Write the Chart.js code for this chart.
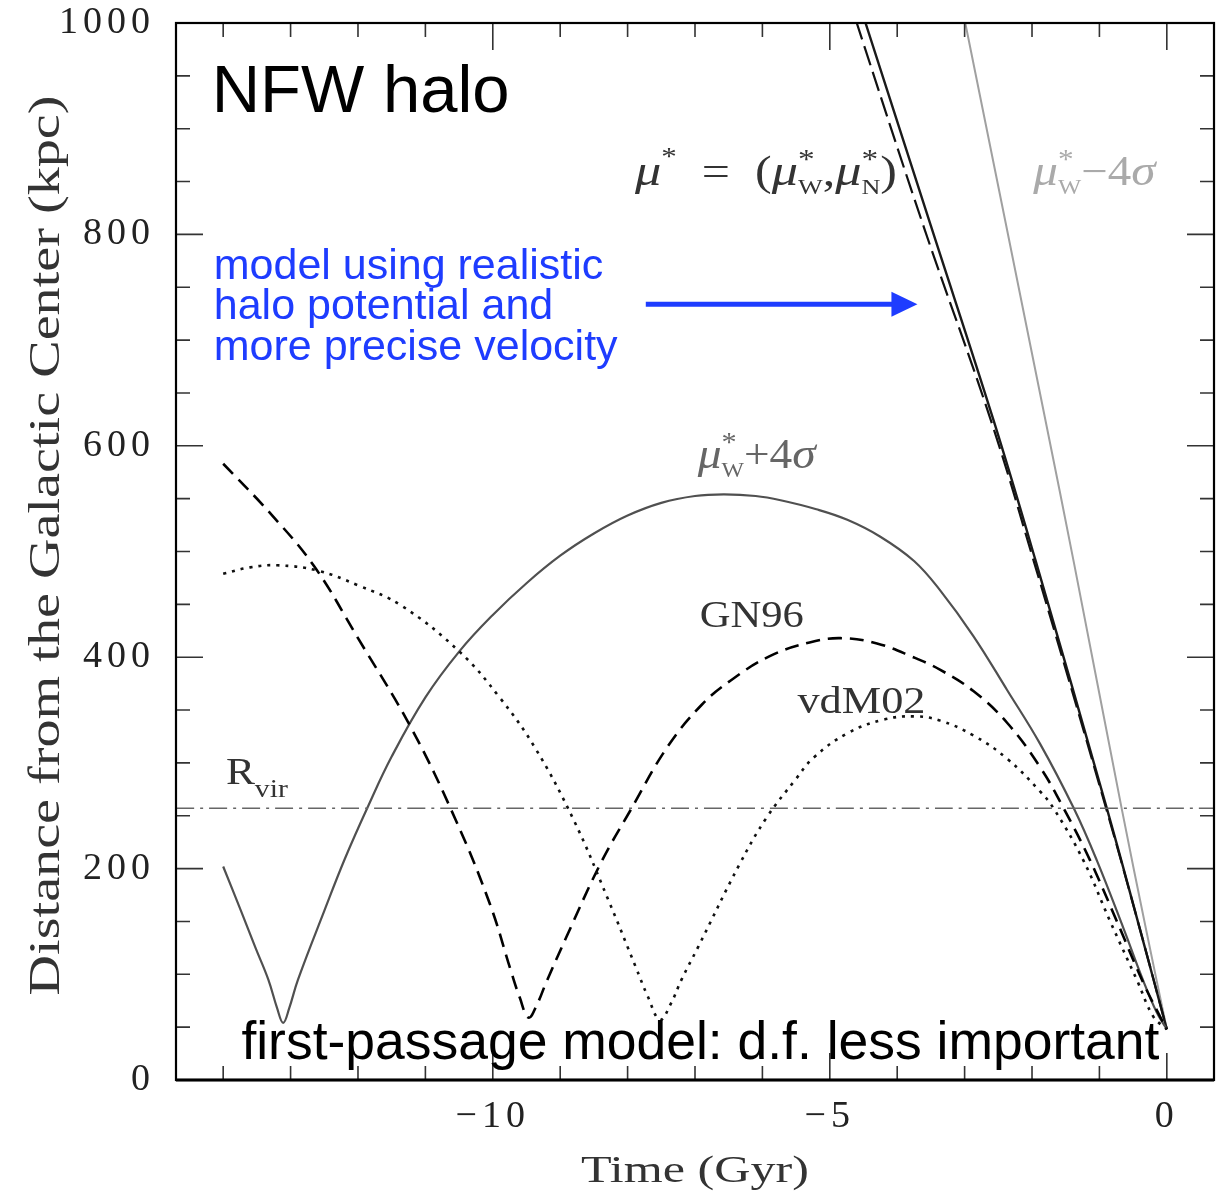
<!DOCTYPE html>
<html>
<head>
<meta charset="utf-8">
<script src="https://cdn.jsdelivr.net/npm/chart.js@4.4.1/dist/chart.umd.min.js"></script>
<style>
  html, body { margin: 0; padding: 0; background: #fff; }
</style>
</head>
<body>
<canvas id="chart" width="1231" height="1195"></canvas>
<script>
// 축 범위
const xMin = -14.7, xMax = 0.7;
const yMin = 0, yMax = 1000;
const xLabelValues = [-10, -5, 0];
const yLabelStep = 200;

// mu* + 4 sigma (진한 회색 실선)
const plusT = [-14.0, -13.73, -13.52, -13.33, -13.2, -13.11, -13.02, -12.89, -12.5, -12.19, -11.85, -11.5, -11.0, -10.49, -10.0, -9.5, -9.0, -8.5, -8.0, -7.5, -7.0, -6.57, -6.1, -5.73, -5.2, -4.74, -4.25, -3.75, -3.36, -2.87, -2.37, -1.88, -1.38, -1.04, -0.64, -0.35, -0.15, 0];
const plusR = [202, 159, 125, 95, 68, 54, 68, 95, 160, 210, 259, 306, 362, 406, 440, 470, 496, 517, 534, 546, 552.5, 554, 552.5, 548.5, 540, 530, 514, 491, 463, 420, 369, 318, 257, 208, 143, 94, 64, 48];

// GN96 (검은 점선)
const gnT = [-14.0, -13.3, -12.65, -12.0, -11.21, -10.55, -10.04, -9.73, -9.6, -9.47, -9.34, -9.21, -8.91, -8.4, -7.95, -7.41, -6.9, -6.47, -5.89, -5.3, -4.84, -4.3, -3.76, -3.36, -2.87, -2.37, -1.88, -1.53, -1.14, -0.74, -0.35, -0.1, 0];
const gnR = [583, 536, 486, 418, 333, 246, 166, 103, 78, 59, 72, 92, 135, 205, 256, 315, 355, 378, 401, 414, 418, 413, 400, 388, 368, 338, 296, 257, 208, 150, 92, 60, 48];

// vdM02 (점)
const vdmT = [-14.0, -13.6, -13.2, -12.6, -12.0, -11.36, -10.49, -9.9, -9.38, -8.8, -8.29, -7.88, -7.7, -7.52, -7.36, -7.2, -6.96, -6.34, -5.94, -5.5, -5.24, -4.74, -4.2, -3.73, -3.36, -2.87, -2.37, -1.88, -1.68, -1.24, -0.84, -0.44, -0.2, 0];
const vdmR = [479, 485, 487, 482, 468, 449, 405, 362, 315, 246, 171, 107, 79, 57, 72, 95, 125, 204, 248, 285, 305, 328, 341, 344, 340, 326, 304, 273, 257, 208, 150, 94, 60, 48];

// mu* = (muW, muN) 실선 과 긴 점선
const coreT = [-4.6, -4.47, -3.5, -2.57, -1.95, -0.89, -0.4, 0];
const coreR = [1027, 1000, 808, 624, 492, 257, 143, 48];
const coreDashT = [-4.73, -4.6, -3.6, -2.61, -1.97, -0.9, -0.4, 0];
const coreDashR = [1027, 1000, 806, 624, 490, 257, 143, 48];

// mu* - 4 sigma (연한 회색)
const minusT = [-3.08, -2.99, -1.80, -1.38, -0.67, -0.3, 0];
const minusR = [1028, 1000, 624, 490, 257, 140, 48];

// 비리얼 반경
const rVir = 257;

const serif = '"Liberation Serif", "Times New Roman", serif';
const sans = '"Liberation Sans", Arial, Helvetica, sans-serif';

function toPoints(ts, rs) {
    return ts.map((t, i) => ({ x: t, y: rs[i] }));
}

function curve(data, color, width, dash) {
    return {
        data: data,
        showLine: true,
        borderColor: color,
        borderWidth: width,
        borderDash: dash || [],
        borderCapStyle: 'butt',
        pointRadius: 0,
        tension: 0.4,
        fill: false
    };
}

// 첨자가 섞인 텍스트 그리기
function drawRuns(ctx, opt) {
    const runs = opt.runs;
    ctx.save();
    // 자연 폭 측정
    let natural = 0, hold = 0;
    runs.forEach(r => {
        ctx.font = r.font;
        const w = ctx.measureText(r.s).width;
        if (r.stack) { hold = Math.max(hold, w); }
        else { natural += Math.max(hold, w); hold = 0; }
    });
    const sx = opt.width ? opt.width / natural : 1;
    ctx.translate(opt.x, opt.y);
    if (opt.rotate) ctx.rotate(opt.rotate);
    ctx.scale(sx, 1);
    ctx.fillStyle = opt.color;
    ctx.textAlign = 'left';
    ctx.textBaseline = 'alphabetic';
    let pen = opt.align === 'center' ? -natural / 2 : 0;
    hold = 0;
    runs.forEach(r => {
        ctx.font = r.font;
        ctx.fillText(r.s, pen, r.dy || 0);
        const w = ctx.measureText(r.s).width;
        if (r.stack) { hold = Math.max(hold, w); }
        else { pen += Math.max(hold, w); hold = 0; }
    });
    ctx.restore();
}

function muW(sign) {
    return [
        { s: '\u03bc', font: 'italic 44px ' + serif },
        { s: '*', font: '28px ' + serif, dy: -17, stack: true },
        { s: 'W', font: '22px ' + serif, dy: 9 },
        { s: sign + '4', font: '42px ' + serif },
        { s: '\u03c3', font: 'italic 44px ' + serif }
    ];
}

// 안쪽 눈금과 테두리
const frame = {
    id: 'frame',
    afterDatasetsDraw(chart) {
        const { ctx, chartArea: a, scales: { x, y } } = chart;
        ctx.save();
        ctx.strokeStyle = '#333';
        ctx.lineWidth = 1.6;
        ctx.beginPath();
        for (let t = Math.ceil(xMin); t <= xMax; t += 1) {
            const p = x.getPixelForValue(t);
            const len = t % 5 === 0 ? 27 : 14;
            ctx.moveTo(p, a.bottom); ctx.lineTo(p, a.bottom - len);
            ctx.moveTo(p, a.top); ctx.lineTo(p, a.top + len);
        }
        for (let r = yMin; r <= yMax; r += 50) {
            const p = y.getPixelForValue(r);
            const len = r % 200 === 0 ? 27 : 14;
            ctx.moveTo(a.left, p); ctx.lineTo(a.left + len, p);
            ctx.moveTo(a.right, p); ctx.lineTo(a.right - len, p);
        }
        ctx.stroke();
        ctx.strokeStyle = '#000';
        ctx.lineWidth = 2.2;
        ctx.strokeRect(a.left, a.top, a.right - a.left, a.bottom - a.top);
        ctx.lineWidth = 3;
        ctx.beginPath();
        ctx.moveTo(a.left, a.bottom); ctx.lineTo(a.right, a.bottom);
        ctx.stroke();
        ctx.restore();
    }
};

// 글자와 화살표
const annotate = {
    id: 'annotate',
    beforeDraw(chart) { chart.ctx.letterSpacing = '5px'; },
    beforeDatasetsDraw(chart) { chart.ctx.letterSpacing = '0px'; },
    afterDatasetsDraw(chart) {
        const { ctx, chartArea: a, scales: { x, y } } = chart;
        const px = t => x.getPixelForValue(t);
        const py = r => y.getPixelForValue(r);
        ctx.save();
        ctx.letterSpacing = '0px';

        // NFW halo
        ctx.fillStyle = '#000';
        ctx.font = '67px ' + sans;
        ctx.textBaseline = 'alphabetic';
        ctx.fillText('NFW halo', px(-14.17), py(916));

        // 파란 설명
        const blue = '#1e3cff';
        ctx.fillStyle = blue;
        ctx.font = '43px ' + sans;
        ctx.fillText('model using realistic', px(-14.14), py(758));
        ctx.fillText('halo potential and', px(-14.14), py(720));
        ctx.fillText('more precise velocity', px(-14.14), py(681));

        // 화살표
        const ay = py(734), ax0 = px(-7.73), ax1 = px(-3.70);
        ctx.strokeStyle = blue;
        ctx.lineWidth = 5;
        ctx.beginPath();
        ctx.moveTo(ax0, ay); ctx.lineTo(ax1 - 24, ay);
        ctx.stroke();
        ctx.beginPath();
        ctx.moveTo(ax1, ay); ctx.lineTo(ax1 - 26, ay - 12.5); ctx.lineTo(ax1 - 26, ay + 12.5);
        ctx.closePath();
        ctx.fill();

        // 수식 라벨
        drawRuns(ctx, {
            x: px(-7.89), y: py(847), width: 262, color: '#333',
            runs: [
                { s: '\u03bc', font: 'italic 44px ' + serif },
                { s: '*', font: '26px ' + serif, dy: -20 },
                { s: '  =  (', font: '42px ' + serif },
                { s: '\u03bc', font: 'italic 44px ' + serif },
                { s: '*', font: '28px ' + serif, dy: -17, stack: true },
                { s: 'W', font: '22px ' + serif, dy: 9 },
                { s: ',', font: '42px ' + serif },
                { s: '\u03bc', font: 'italic 44px ' + serif },
                { s: '*', font: '28px ' + serif, dy: -17, stack: true },
                { s: 'N', font: '22px ' + serif, dy: 9 },
                { s: ')', font: '42px ' + serif }
            ]
        });
        drawRuns(ctx, { x: px(-1.98), y: py(847), width: 122, color: '#aaa', runs: muW('\u2212') });
        drawRuns(ctx, { x: px(-6.96), y: py(579), width: 118, color: '#666', runs: muW('+') });
        drawRuns(ctx, { x: px(-6.93), y: py(428.6), width: 104, color: '#333',
            runs: [{ s: 'GN96', font: '38px ' + serif }] });
        drawRuns(ctx, { x: px(-5.48), y: py(347), width: 128, color: '#333',
            runs: [{ s: 'vdM02', font: '38px ' + serif }] });
        drawRuns(ctx, { x: px(-13.96), y: py(280), width: 62, color: '#333',
            runs: [{ s: 'R', font: '38px ' + serif }, { s: 'vir', font: '26px ' + serif, dy: 13 }] });

        // 아래 문구
        drawRuns(ctx, { x: px(-13.73), y: py(20), width: 918, color: '#000',
            runs: [{ s: 'first-passage model: d.f. less important', font: '53px ' + sans }] });

        // 축 제목
        drawRuns(ctx, { x: (a.left + a.right) / 2, y: 1182, width: 228, color: '#333', align: 'center',
            runs: [{ s: 'Time (Gyr)', font: '38px ' + serif }] });
        drawRuns(ctx, { x: 59, y: (a.top + a.bottom) / 2 - 6, width: 900, color: '#333', align: 'center',
            rotate: -Math.PI / 2,
            runs: [{ s: 'Distance from the Galactic Center (kpc)', font: '44px ' + serif }] });
        ctx.restore();
    }
};

const chart = new Chart(document.getElementById('chart'), {
    type: 'scatter',
    data: {
        datasets: [
            curve([{ x: xMin, y: rVir }, { x: xMax, y: rVir }], '#666', 1.5, [18, 6, 3, 6]),
            curve(toPoints(vdmT, vdmR), '#111', 2.6, [3, 6]),
            curve(toPoints(gnT, gnR), '#000', 2.6, [14, 8]),
            curve(toPoints(plusT, plusR), '#505050', 2.2),
            curve(toPoints(coreDashT, coreDashR), '#111', 2.2, [20, 7]),
            curve(toPoints(coreT, coreR), '#1a1a1a', 2.4),
            curve(toPoints(minusT, minusR), '#a0a0a0', 2.0)
        ]
    },
    options: {
        responsive: false,
        animation: false,
        layout: { padding: { top: 23, right: 17, left: 0, bottom: 0 } },
        plugins: { legend: { display: false }, tooltip: { enabled: false } },
        scales: {
            x: {
                type: 'linear',
                min: xMin,
                max: xMax,
                afterFit(scale) {
                    scale.height = 115;
                    scale.paddingLeft = 0;
                    scale.paddingRight = 0;
                },
                grid: { display: false, drawTicks: false },
                border: { display: false },
                ticks: {
                    stepSize: 5,
                    includeBounds: false,
                    autoSkip: false,
                    maxRotation: 0,
                    padding: 14,
                    color: '#222',
                    font: { family: 'Liberation Serif', size: 38 },
                    callback: v => {
                        const n = Math.round(v);
                        if (Math.abs(v - n) > 1e-6 || !xLabelValues.includes(n)) return '';
                        return n === 0 ? '0' : '\u2212' + Math.abs(n);
                    }
                }
            },
            y: {
                type: 'linear',
                min: yMin,
                max: yMax,
                afterFit(scale) {
                    scale.width = 176;
                    scale.paddingTop = 0;
                    scale.paddingBottom = 0;
                },
                grid: { display: false, drawTicks: false },
                border: { display: false },
                ticks: {
                    stepSize: yLabelStep,
                    padding: 21,
                    color: '#222',
                    font: { family: 'Liberation Serif', size: 38 },
                    callback: v => String(v)
                }
            }
        }
    },
    plugins: [frame, annotate]
});
</script>
</body>
</html>
